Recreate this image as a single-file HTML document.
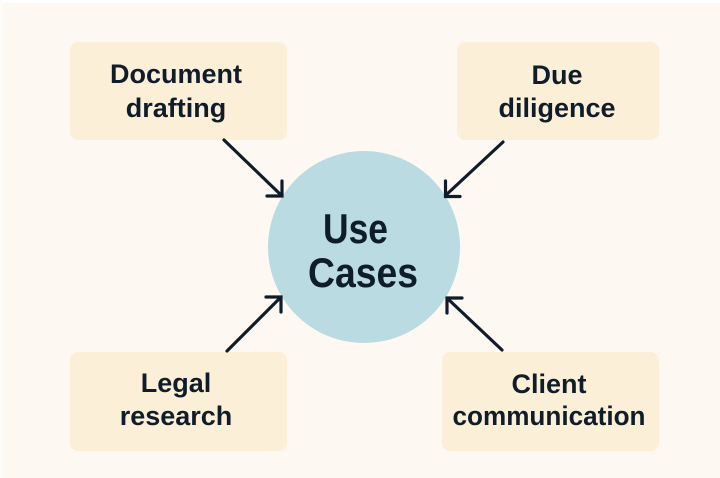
<!DOCTYPE html>
<html>
<head>
<meta charset="utf-8">
<style>
  html, body { margin: 0; padding: 0; background: #fdf9f2; }
  svg { display: block; }
  text { font-family: "Liberation Sans", "DejaVu Sans", sans-serif; font-weight: bold; fill: #0f1d2a; }
</style>
</head>
<body>
<svg width="720" height="478" viewBox="0 0 720 478" xmlns="http://www.w3.org/2000/svg">
  <rect x="0" y="0" width="720" height="478" fill="#fdf9f2"/>
  <rect x="0" y="0" width="720" height="3" fill="#ffffff"/>
  <rect x="0" y="0" width="3" height="478" fill="#fefcf8"/>

  <!-- boxes -->
  <rect x="70" y="42" width="217" height="98" rx="8" fill="#fcefd8"/>
  <rect x="457" y="42" width="202" height="98" rx="8" fill="#fcefd8"/>
  <rect x="70" y="352" width="217" height="99" rx="8" fill="#fcefd8"/>
  <rect x="442" y="352" width="217" height="99" rx="8" fill="#fcefd8"/>

  <!-- circle -->
  <circle cx="364" cy="247" r="96" fill="#badbe2"/>

  <!-- arrows -->
  <g stroke="#0f1d2a" stroke-width="3.2" fill="none" stroke-linecap="round" stroke-linejoin="miter">
    <line x1="224" y1="140" x2="281" y2="195"/>
    <polyline points="267,196 282,196 282,181"/>

    <line x1="503" y1="142" x2="446" y2="195"/>
    <polyline points="460,196.5 445.5,196.5 445.5,181"/>

    <line x1="227" y1="351" x2="280" y2="298"/>
    <polyline points="266,297 281,297 281,312"/>

    <line x1="502" y1="350" x2="448" y2="299"/>
    <polyline points="462,298 447,298 447,313"/>
  </g>

  <!-- labels -->
  <g font-size="27" text-anchor="middle">
    <text x="176" y="83">Document</text>
    <text x="176" y="117">drafting</text>

    <text x="557" y="84">Due</text>
    <text x="557" y="117">diligence</text>

    <text x="176" y="392">Legal</text>
    <text x="176" y="425">research</text>

    <text x="549" y="393">Client</text>
    <text x="549" y="425" textLength="193" lengthAdjust="spacingAndGlyphs">communication</text>
  </g>

  <g font-size="42" text-anchor="middle">
    <text x="355.5" y="243" textLength="65" lengthAdjust="spacingAndGlyphs">Use</text>
    <text x="363" y="287" textLength="110" lengthAdjust="spacingAndGlyphs">Cases</text>
  </g>
</svg>
</body>
</html>
